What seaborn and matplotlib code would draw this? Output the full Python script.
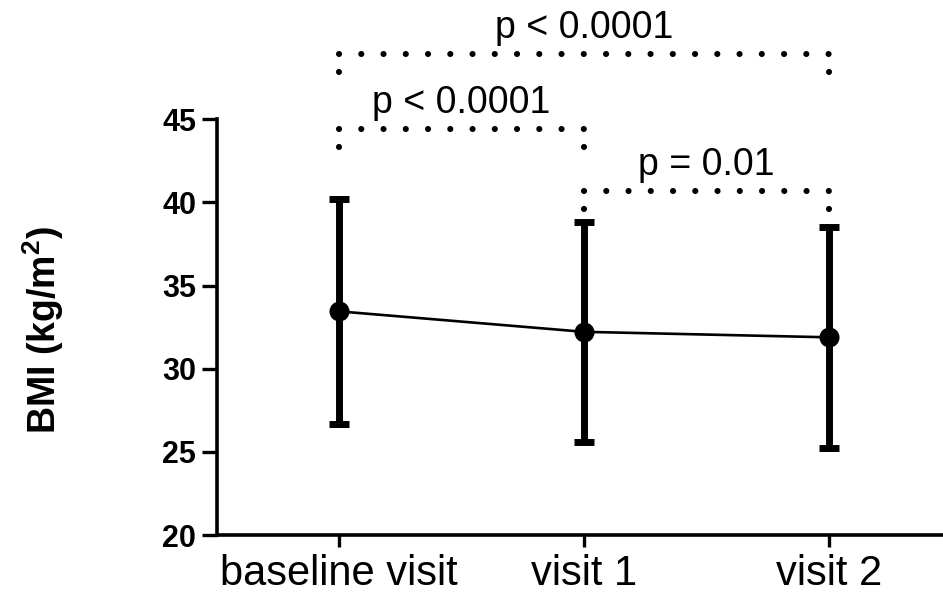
import numpy as np
import pandas as pd
import matplotlib
matplotlib.use('Agg')
import matplotlib.pyplot as plt
import seaborn as sns

# BMI per visit (mean with upper / lower error bar ends)
visits = ['baseline visit', 'visit 1', 'visit 2']
bmi_mean = [33.45, 32.22, 31.89]
bmi_upper = [40.19, 38.84, 38.54]
bmi_lower = [26.70, 25.61, 25.22]

# pairwise comparisons drawn as dotted brackets
comp_left = [0, 0, 1]
comp_right = [2, 1, 2]
comp_labels = ['p < 0.0001', 'p < 0.0001', 'p = 0.01']
comp_height = [48.93, 44.42, 40.71]

sns.set_style('ticks')
plt.rcParams['font.family'] = ['Liberation Sans', 'DejaVu Sans']
plt.rcParams['mathtext.fontset'] = 'custom'
plt.rcParams['mathtext.bf'] = 'Liberation Sans:bold'
plt.rcParams['mathtext.rm'] = 'Liberation Sans:bold'
plt.rcParams['mathtext.default'] = 'bf'
for key in ['text.color', 'axes.edgecolor', 'axes.labelcolor', 'xtick.color', 'ytick.color']:
    plt.rcParams[key] = 'black'

df = pd.DataFrame({'visit': visits, 'bmi': bmi_mean,
                   'upper': bmi_upper, 'lower': bmi_lower})

fig = plt.figure(figsize=(9.43, 5.95), dpi=100)
ax = fig.add_axes([0.2298, 0.1008, 0.7787, 0.6987])

# error bars behind the mean markers
xpos = np.arange(len(df))
yerr = [df['bmi'] - df['lower'], df['upper'] - df['bmi']]
ax.errorbar(xpos, df['bmi'], yerr=yerr, fmt='none', ecolor='black',
            elinewidth=5, capsize=7.2, capthick=5, zorder=1)

sns.pointplot(data=df, x='visit', y='bmi', color='black', errorbar=None,
              markers='o', markersize=13, linewidth=1.9, ax=ax)

ax.set_xlim(-0.5, 2.5)
ax.set_ylim(20, 45)
ax.set_yticks(np.arange(20, 46, 5))
ax.set_xlabel('')
ax.set_ylabel('BMI (kg/m$^2$)', fontsize=27, fontweight='bold', va='center')
ax.yaxis.set_label_coords(-0.2365, 0.493)

sns.despine(ax=ax)
for side in ['left', 'bottom']:
    ax.spines[side].set_linewidth(2.6)
ax.tick_params(axis='y', length=10.8, width=2.4, pad=4, labelsize=22)
ax.tick_params(axis='x', length=8.5, width=2.4, pad=5, labelsize=30)
for lab in ax.get_yticklabels():
    lab.set_fontweight('bold')

# dotted comparison brackets with p-values
drop = 1.1
dot_lw = 4.4               # points
dot_px = dot_lw * 100 / 72
step_px = 22.3
px_per_x = ax.transData.transform((1, 0))[0] - ax.transData.transform((0, 0))[0]
for left, right, label, h in zip(comp_left, comp_right, comp_labels, comp_height):
    length = (right - left) * px_per_x
    gap = length / round(length / step_px) / dot_px - 0.01
    dots = (0, (0.01, gap))
    ax.plot([left, right + 0.004], [h, h], color='black', linewidth=dot_lw,
            linestyle=dots, dash_capstyle='round', clip_on=False)
    for x in (left, right):
        ax.plot([x, x], [h - drop, h - 0.2], color='black', linewidth=dot_lw,
                linestyle=dots, dash_capstyle='round', clip_on=False)
    ax.text((left + right) / 2, h + 1.55, label, ha='center', va='center',
            fontsize=27, clip_on=False)

plt.savefig('out.png', dpi=100)
